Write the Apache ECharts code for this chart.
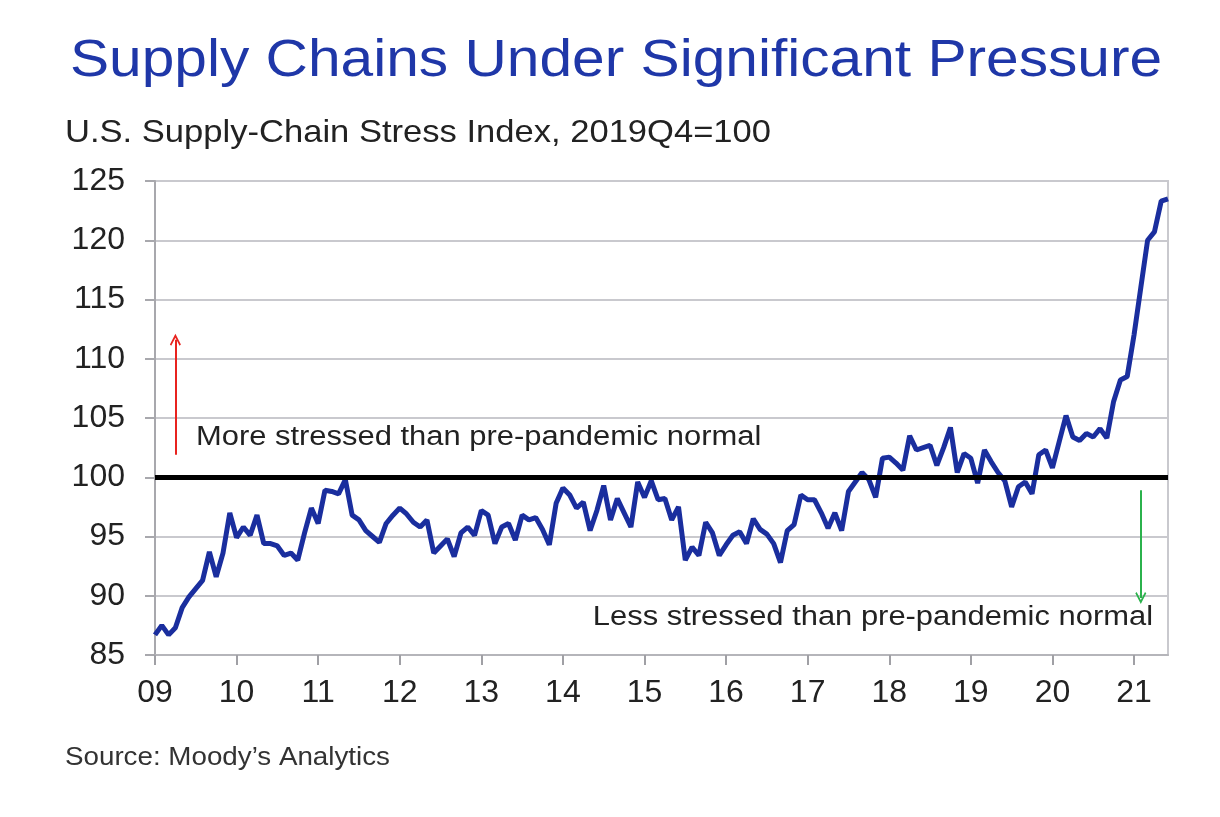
<!DOCTYPE html>
<html>
<head>
<meta charset="utf-8">
<script src="https://cdn.jsdelivr.net/npm/echarts@6/dist/echarts.min.js"></script>
<style>
html,body{margin:0;padding:0;background:#fff;}
#chart{width:1220px;height:817px;}
</style>
</head>
<body>
<div id="chart"></div>
<script>
// Tick labels (years) on the x axis
var yearLabels = ["09","10","11","12","13","14","15","16","17","18","19","20","21"];
var monthsInLastYear = 6;

// Monthly U.S. Supply-Chain Stress Index, 2019Q4=100
var v2009 = [86.7, 87.5, 86.7, 87.3, 89.0, 89.9, 90.6, 91.3, 93.7, 91.6, 93.6, 97.0];
var v2010 = [94.9, 95.8, 95.1, 96.8, 94.4, 94.4, 94.2, 93.4, 93.6, 93.0, 95.3, 97.4];
var v2011 = [96.1, 98.9, 98.8, 98.6, 99.8, 96.8, 96.4, 95.5, 95.0, 94.5, 96.1, 96.8];
var v2012 = [97.4, 96.9, 96.2, 95.8, 96.4, 93.6, 94.2, 94.8, 93.3, 95.3, 95.8, 95.1];
var v2013 = [97.2, 96.8, 94.4, 95.8, 96.1, 94.7, 96.8, 96.4, 96.6, 95.6, 94.3, 97.8];
var v2014 = [99.1, 98.5, 97.4, 97.9, 95.5, 97.2, 99.3, 96.4, 98.2, 97.0, 95.8, 99.6];
var v2015 = [98.3, 99.7, 98.1, 98.2, 96.4, 97.5, 93.0, 94.1, 93.4, 96.2, 95.3, 93.4];
var v2016 = [94.3, 95.1, 95.4, 94.4, 96.5, 95.6, 95.2, 94.4, 92.8, 95.5, 96.0, 98.5];
var v2017 = [98.1, 98.1, 97.0, 95.7, 97.0, 95.5, 98.8, 99.6, 100.4, 99.8, 98.3, 101.6];
var v2018 = [101.7, 101.2, 100.6, 103.5, 102.3, 102.5, 102.7, 101.0, 102.5, 104.2, 100.4, 102.0];
var v2019 = [101.6, 99.5, 102.3, 101.3, 100.4, 99.7, 97.5, 99.2, 99.6, 98.6, 101.9, 102.3];
var v2020 = [100.8, 103.0, 105.2, 103.4, 103.1, 103.7, 103.4, 104.1, 103.3, 106.4, 108.2, 108.5];
var v2021 = [112.0, 116.0, 120.0, 120.7, 123.3, 123.5];

var stressIndex = [].concat(v2009, v2010, v2011, v2012, v2013, v2014, v2015,
                            v2016, v2017, v2018, v2019, v2020, v2021);

// Monthly categories: "YY-MM"
var categories = [];
yearLabels.forEach(function (yy, i) {
  var n = (i === yearLabels.length - 1) ? monthsInLastYear : 12;
  for (var m = 1; m <= n; m++) {
    categories.push(yy + "-" + (m < 10 ? "0" + m : "" + m));
  }
});

var baselineValue = 100;
var upArrow = { cat: "09-04", from: 101.9, to: 111.6 };
var downArrow = { cat: "21-02", from: 98.9, to: 89.8 };

var FONT = "'Liberation Sans', Arial, sans-serif";
var gridColor = "#c9c9ce";
var chevron = "path://M5,0 L10,9 L8.8,10 L5,3.4 L1.2,10 L0,9 Z";

function label(text, x, y, size, color, scaleX, align) {
  return {
    type: "text", x: x, y: y, scaleX: scaleX, silent: true,
    style: { text: text, fill: color, font: size + "px " + FONT,
             align: align || "left", verticalAlign: "middle" }
  };
}

var chart = echarts.init(document.getElementById("chart"), null, { renderer: "canvas" });
chart.setOption({
  animation: false,
  backgroundColor: "#ffffff",
  grid: {
    left: 155, right: 52, top: 181, bottom: 162,
    show: true, borderColor: gridColor, borderWidth: 2, backgroundColor: "transparent"
  },
  graphic: [
    label("Supply Chains Under Significant Pressure", 70, 62, 51, "#1f37a8", 1.15),
    label("U.S. Supply-Chain Stress Index, 2019Q4=100", 65, 133, 32, "#222222", 1.08),
    label("Source: Moody\u2019s Analytics", 65, 758, 25, "#333333", 1.11),
    label("More stressed than pre-pandemic normal", 196, 438, 27, "#222222", 1.145),
    label("Less stressed than pre-pandemic normal", 1153, 618, 27, "#222222", 1.145, "right")
  ],
  xAxis: {
    type: "category",
    data: categories,
    boundaryGap: false,
    axisLine: { show: true, lineStyle: { color: "#b5b5ba", width: 2 } },
    axisTick: {
      show: true, length: 10, lineStyle: { color: "#a0a0a5", width: 2 },
      interval: function (idx) { return idx % 12 === 0; }
    },
    axisLabel: {
      interval: function (idx) { return idx % 12 === 0; },
      formatter: function (val) { return val.split("-")[0]; },
      color: "#222222", fontSize: 32, fontFamily: FONT, margin: 22
    },
    splitLine: { show: false }
  },
  yAxis: {
    type: "value",
    min: 85, max: 125, interval: 5,
    axisLine: { show: true, lineStyle: { color: "#a8a8ad", width: 2 } },
    axisTick: { show: true, length: 10, lineStyle: { color: "#a8a8ad", width: 2 } },
    axisLabel: { color: "#222222", fontSize: 32, fontFamily: FONT, margin: 30 },
    splitLine: { show: true, lineStyle: { color: gridColor, width: 2 } }
  },
  series: [
    {
      type: "line",
      data: stressIndex,
      symbol: "none",
      lineStyle: { color: "#1a2e9e", width: 5 },
      z: 3,
      markLine: {
        silent: true,
        label: { show: false },
        data: [
          [{ coord: [upArrow.cat, upArrow.from], symbol: "none",
             lineStyle: { color: "#e8231f", width: 2, type: "solid" } },
           { coord: [upArrow.cat, upArrow.to], symbol: chevron, symbolSize: [11, 12] }],
          [{ coord: [downArrow.cat, downArrow.from], symbol: "none",
             lineStyle: { color: "#2bb24c", width: 2, type: "solid" } },
           { coord: [downArrow.cat, downArrow.to], symbol: chevron, symbolSize: [11, 12] }]
        ]
      }
    },
    {
      type: "line",
      data: [],
      z: 4,
      markLine: {
        silent: true,
        symbol: "none",
        label: { show: false },
        lineStyle: { color: "#000000", width: 5, type: "solid" },
        data: [{ yAxis: baselineValue }]
      }
    }
  ]
});
</script>
</body>
</html>
